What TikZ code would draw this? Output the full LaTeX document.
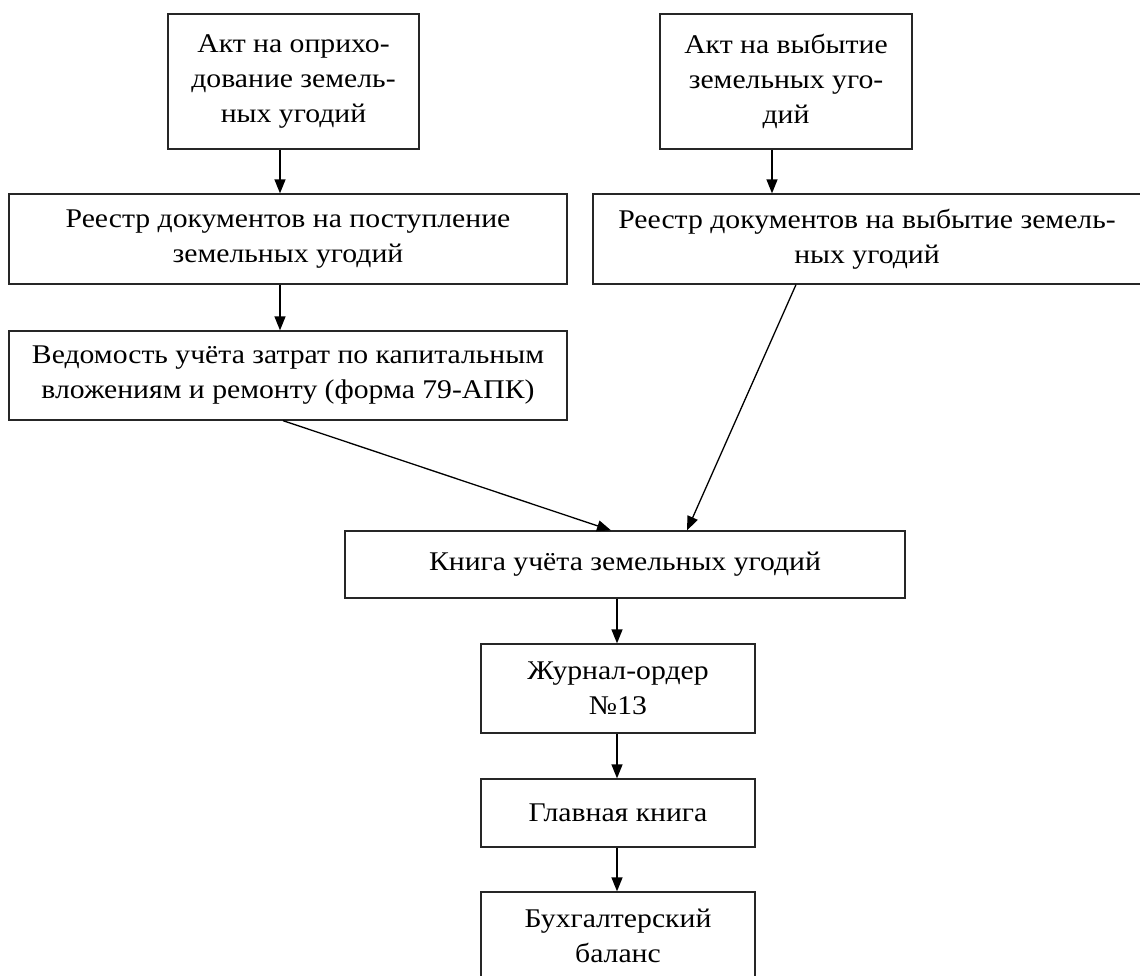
\documentclass[tikz,border=0pt]{standalone}
\usepackage{fontspec}
\setmainfont{Liberation Serif}[FakeStretch=1.1]
\usetikzlibrary{arrows.meta}
\begin{document}
\begin{tikzpicture}[x=1pt,y=-1pt,
  box/.style={draw=black!85, line width=1.3pt, rectangle, inner sep=0pt, align=center,
    font=\fontsize{27}{35}\selectfont},
  arr/.style={draw=black, line width=1.3pt, -{Triangle[length=14pt,width=11pt]}}]
\useasboundingbox (0,0) rectangle (1140,975);
\begin{scope}
\clip (0,0) rectangle (1140,975);
\node[box, minimum width=251pt, minimum height=135pt] (b1) at (293.5,81.5)
  {Акт на оприхо-\\дование земель-\\ных угодий};
\node[box, minimum width=252pt, minimum height=135pt] (b2) at (786,81.5)
  {Акт на выбытие\\земельных уго-\\дий};
\node[box, minimum width=558pt, minimum height=90pt] (b3) at (288,239)
  {Реестр документов на поступление\\земельных угодий};
\node[box, minimum width=548pt, minimum height=90pt] (b4) at (867,239)
  {Реестр документов на выбытие земель-\\ных угодий};
\node[box, minimum width=558pt, minimum height=89pt] (b5) at (288,375.5)
  {Ведомость учёта затрат по капитальным\\вложениям и ремонту (форма 79-АПК)};
\node[box, minimum width=560pt, minimum height=67pt] (b6) at (625,564.5)
  {Книга учёта земельных угодий};
\node[box, minimum width=274pt, minimum height=89pt] (b7) at (618,688.5)
  {Журнал-ордер\\№13};
\node[box, minimum width=274pt, minimum height=68pt] (b8) at (618,813)
  {Главная книга};
\node[box, minimum width=274pt, minimum height=88pt] (b9) at (618,936)
  {Бухгалтерский\\баланс};
\end{scope}
\coordinate (xa) at (280,0);
\coordinate (xb) at (772,0);
\coordinate (xc) at (283,0);
\coordinate (xd) at (611,0);
\coordinate (xe) at (796,0);
\coordinate (xf) at (687,0);
\coordinate (xg) at (617,0);
\draw[arr] (b1.south -| xa) -- (b3.north -| xa);
\draw[arr] (b2.south -| xb) -- (b4.north -| xb);
\draw[arr] (b3.south -| xa) -- (b5.north -| xa);
\draw[arr] (b5.south -| xc) -- (b6.north -| xd);
\draw[arr] (b4.south -| xe) -- (b6.north -| xf);
\draw[arr] (b6.south -| xg) -- (b7.north -| xg);
\draw[arr] (b7.south -| xg) -- (b8.north -| xg);
\draw[arr] (b8.south -| xg) -- (b9.north -| xg);
\end{tikzpicture}
\end{document}
